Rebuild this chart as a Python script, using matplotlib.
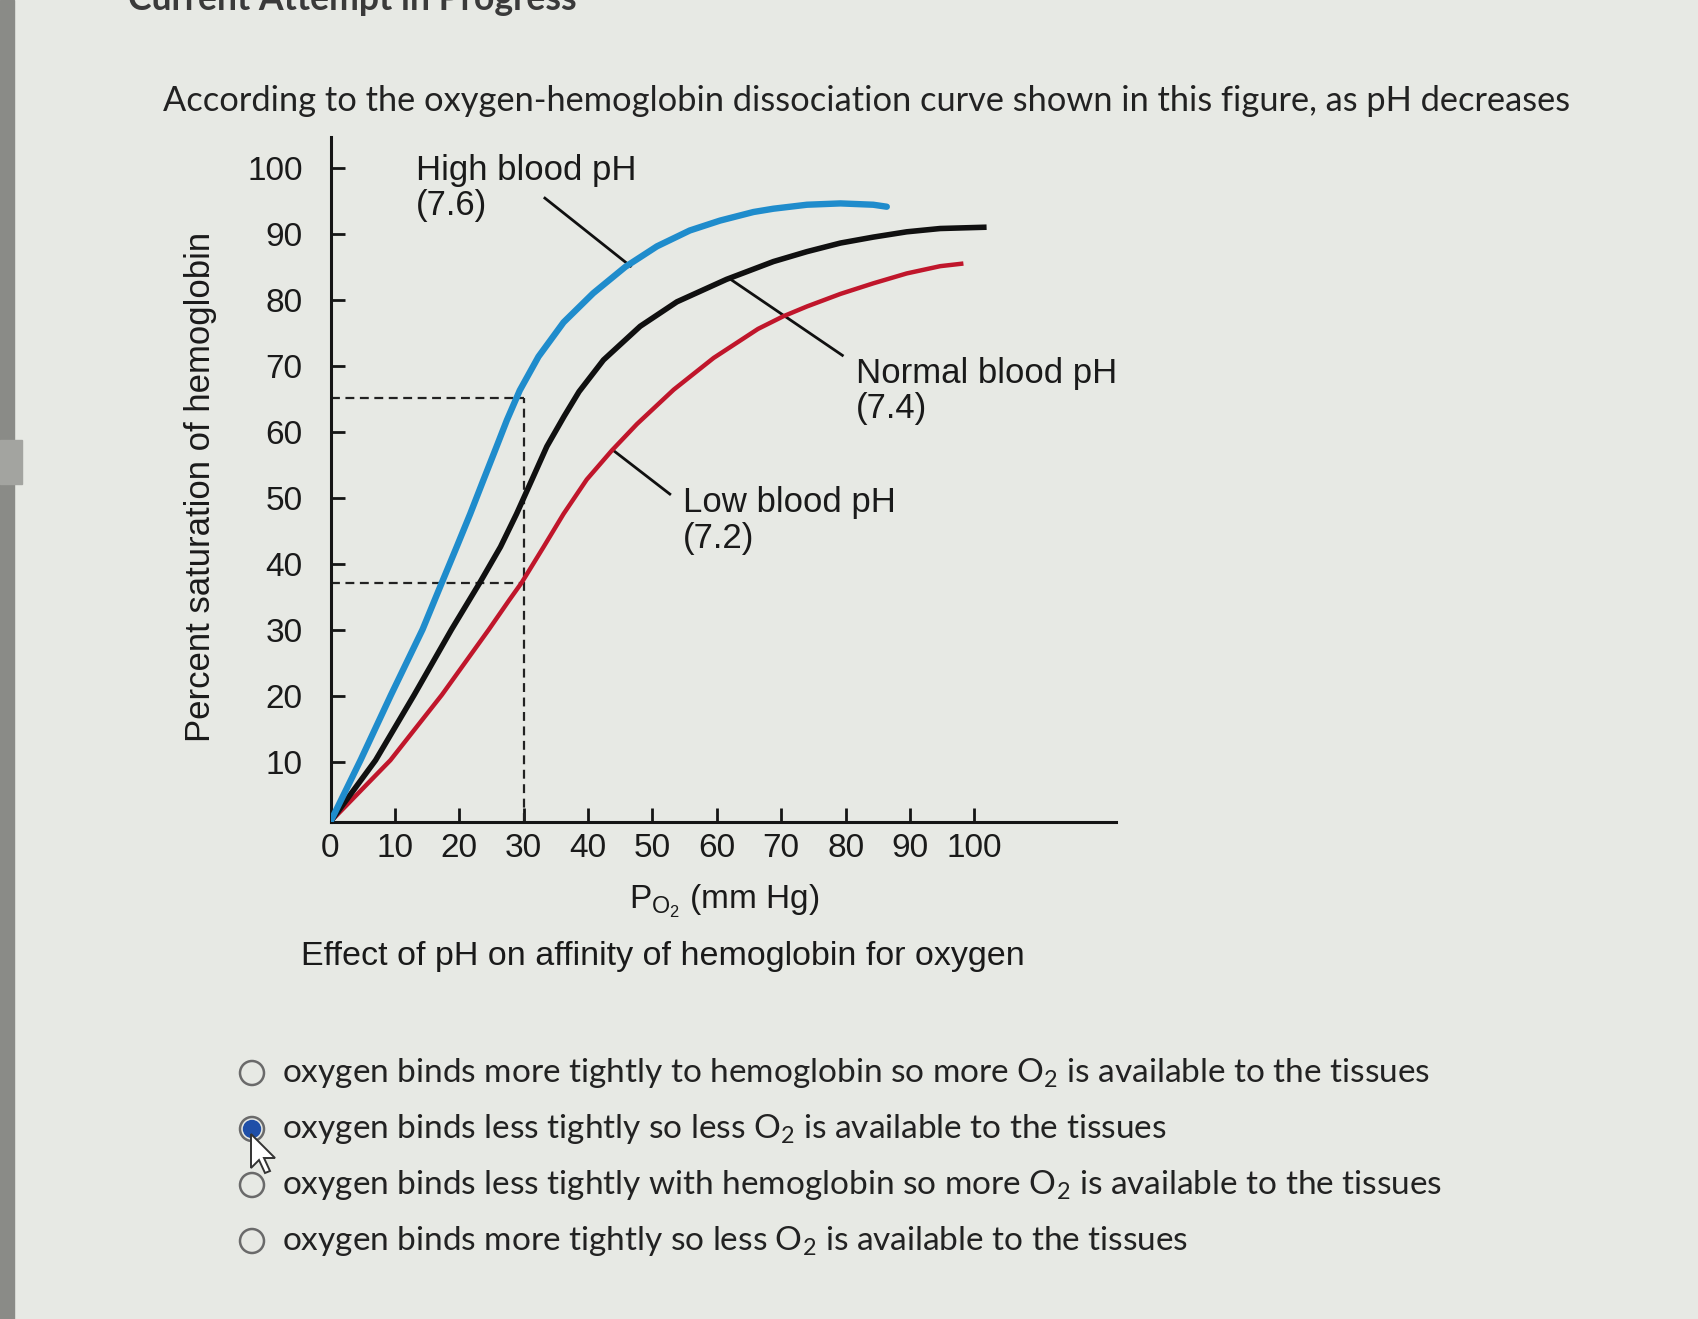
import matplotlib
matplotlib.use('Agg')
import matplotlib.pyplot as plt
from matplotlib.patches import Circle, Rectangle, Polygon

plt.rcParams['font.family'] = ['Liberation Sans', 'DejaVu Sans']
plt.rcParams['mathtext.fontset'] = 'custom'
plt.rcParams['mathtext.rm'] = 'Liberation Sans'

# curves (PO2 in mm Hg, % saturation)
high_x = [0, 4.66, 9.4, 14.3, 17.3, 19.6, 21.7, 23.7, 25.8, 27.4, 29.4, 32.3, 36.2, 40.8,
          45.8, 50.7, 55.8, 60.5, 65.7, 68.8, 74, 79.2, 84.3, 86.4]
high_y = [1.0, 10.3, 20.2, 30.1, 37.2, 42.6, 47.6, 52.6, 57.8, 61.8, 66.3, 71.4, 76.6, 81.0,
          85.0, 88.1, 90.5, 92.0, 93.3, 93.8, 94.4, 94.6, 94.4, 94.1]
normal_x = [0, 7.0, 13.0, 18.8, 23.2, 26.4, 28.9, 31.3, 33.6, 36.3, 38.6, 42.4, 48.1,
            53.8, 61.5, 68.8, 74, 79.2, 84.3, 89.5, 94.7, 101.9]
normal_y = [1.0, 10.3, 20.2, 30.1, 37.2, 42.6, 47.6, 52.8, 57.8, 62.4, 66.1, 70.9, 76.0,
            79.7, 83.1, 85.8, 87.3, 88.6, 89.5, 90.3, 90.8, 91.0]
low_x = [0, 9.3, 17.3, 24.6, 27.8, 29.7, 33.1, 36.2, 39.8, 43.7, 47.6, 53.3, 59.5, 66.4,
         70.3, 74, 79.2, 84.3, 89.5, 94.7, 98.3]
low_y = [1.0, 10.3, 20.2, 30.1, 34.6, 37.2, 42.6, 47.6, 52.8, 57.2, 61.2, 66.4, 71.2, 75.6,
         77.5, 79.0, 80.9, 82.5, 84.0, 85.1, 85.5]

ref_po2 = 30
ref_sat_high = 65.1
ref_sat_low = 37.2

x_ticks = [0, 10, 20, 30, 40, 50, 60, 70, 80, 90, 100]
y_ticks = [10, 20, 30, 40, 50, 60, 70, 80, 90, 100]

question = 'According to the oxygen-hemoglobin dissociation curve shown in this figure, as pH decreases'
options = [
    r'oxygen binds more tightly to hemoglobin so more O$_\mathregular{2}$ is available to the tissues',
    r'oxygen binds less tightly so less O$_\mathregular{2}$ is available to the tissues',
    r'oxygen binds less tightly with hemoglobin so more O$_\mathregular{2}$ is available to the tissues',
    r'oxygen binds more tightly so less O$_\mathregular{2}$ is available to the tissues',
]
selected = 1

W, H = 1699, 1319
fig = plt.figure(figsize=(W / 100, H / 100), dpi=100)
fig.patch.set_facecolor('#e7e9e4')

# page / screen elements in pixel coords
ui = fig.add_axes([0, 0, 1, 1])
ui.set_xlim(0, W)
ui.set_ylim(H, 0)
ui.axis('off')
ui.add_patch(Rectangle((0, 0), 14, H, color='#8a8b87'))
ui.add_patch(Rectangle((0, 440), 22, 44, color='#a3a4a0'))
ui.text(128, 10, 'Current Attempt in Progress', fontsize=25.7, family='Lato',
        fontweight='bold', color='#3a3a3a', va='baseline')
ui.text(163, 101, question, fontsize=24.75, family='Lato', color='#222222', va='center')

opt_y = [1073, 1129, 1185, 1241]
for i, (txt, yy) in enumerate(zip(options, opt_y)):
    ui.add_patch(Circle((252, yy), 12, fill=False, ec='#6a6a6a', lw=1.8))
    if i == selected:
        ui.add_patch(Circle((252, yy), 8.5, color='#1f4fa8'))
    ui.text(282, yy, txt, fontsize=24, family='Lato', color='#222222', va='center')

# mouse pointer
tx, ty = 251, 1134
arrow = [(0, 0), (0, 34), (8, 26), (14, 39), (19, 37), (13, 24), (24, 24)]
ui.add_patch(Polygon([(tx + a, ty + b) for a, b in arrow], closed=True,
                     fc='white', ec='#333333', lw=1.4))

ui.text(201, 487, 'Percent saturation of hemoglobin', rotation=90, fontsize=25,
        ha='center', va='center', color='#1a1a1a')
ui.text(724, 901, r'$\mathregular{P_{O_2}}$ (mm Hg)', fontsize=24,
        ha='center', va='center', color='#1a1a1a')
ui.text(301, 956, 'Effect of pH on affinity of hemoglobin for oxygen', fontsize=24.5,
        ha='left', va='center', color='#1a1a1a')

# chart
ax = fig.add_axes([330.5 / W, 1 - 822 / H, (1116 - 330.5) / W, (822 - 136.7) / H])
ax.set_facecolor('none')
ax.set_xlim(0, 122)
ax.set_ylim(0.95, 104.7)
for s in ['top', 'right']:
    ax.spines[s].set_visible(False)
for s in ['left', 'bottom']:
    ax.spines[s].set_linewidth(2.2)
    ax.spines[s].set_color('#151515')

ax.set_xticks(x_ticks)
ax.set_yticks(y_ticks)
ax.tick_params(axis='both', direction='in', length=10, width=2, color='#151515',
               labelsize=24, labelcolor='#1a1a1a')
ax.tick_params(axis='y', pad=20)
ax.tick_params(axis='x', pad=8)
ax.get_xticklines()[0].set_visible(False)

dash = (0, (4, 2.5))
ax.plot([0, ref_po2], [ref_sat_high, ref_sat_high], color='#222222', lw=1.6, linestyle=dash)
ax.plot([0, ref_po2], [ref_sat_low, ref_sat_low], color='#222222', lw=1.6, linestyle=dash)
ax.plot([ref_po2, ref_po2], [0.95, ref_sat_high], color='#222222', lw=1.6, linestyle=dash)

ax.plot(low_x, low_y, color='#c0162b', lw=3.2, solid_capstyle='butt',
        solid_joinstyle='round', zorder=3)
ax.plot(normal_x, normal_y, color='#101010', lw=4, solid_capstyle='butt',
        solid_joinstyle='round', zorder=4)
ax.plot(high_x, high_y, color='#1f8ccc', lw=4.6, solid_capstyle='round',
        solid_joinstyle='round', zorder=5)

# leader lines and labels
ax.plot([33.3, 46.6], [95.4, 85.1], color='#101010', lw=2)
ax.plot([62.0, 79.5], [83.2, 71.6], color='#101010', lw=2)
ax.plot([43.8, 52.7], [57.3, 50.6], color='#101010', lw=2)
ax.text(13.3, 102.1, 'High blood pH\n(7.6)', fontsize=25, va='top', ha='left',
        linespacing=1.1, color='#1a1a1a')
ax.text(81.6, 71.4, 'Normal blood pH\n(7.4)', fontsize=25, va='top', ha='left',
        linespacing=1.1, color='#1a1a1a')
ax.text(54.7, 51.8, 'Low blood pH\n(7.2)', fontsize=25, va='top', ha='left',
        linespacing=1.1, color='#1a1a1a')

fig.savefig('out.png', dpi=100, facecolor=fig.get_facecolor())
